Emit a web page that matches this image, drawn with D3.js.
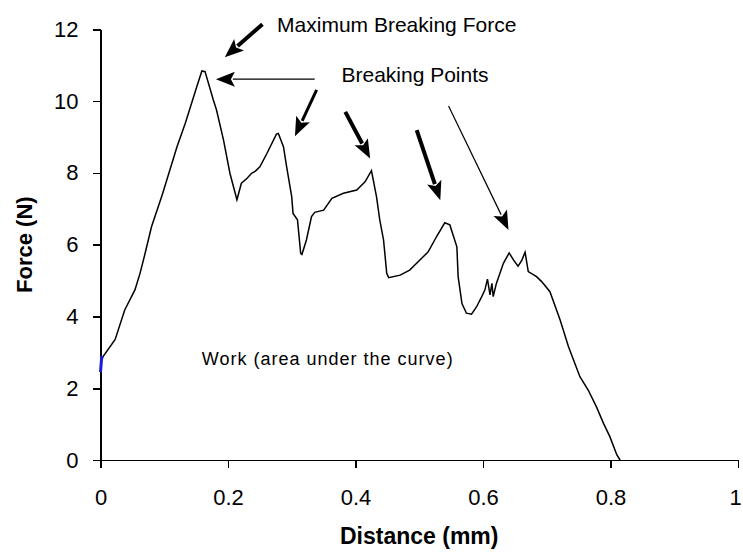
<!DOCTYPE html>
<html>
<head>
<meta charset="utf-8">
<script src="https://cdn.jsdelivr.net/npm/d3@7"></script>
<style>
  html, body { margin: 0; padding: 0; background: #fff; }
  svg { display: block; font-family: "Liberation Sans", Arial, sans-serif; }
  .axis path, .axis line { stroke: #000; stroke-width: 1.6; shape-rendering: crispEdges; }
  .axis text { fill: #000; font-size: 22px; }
</style>
</head>
<body>
<div id="chart"></div>
<script>
/* traced force / distance curve */
const distance = [0, 0.004, 0.023, 0.038, 0.054, 0.062, 0.07, 0.08, 0.097,
  0.12, 0.133, 0.151, 0.159, 0.164, 0.177, 0.182, 0.193, 0.203, 0.214,
  0.221, 0.23, 0.237, 0.243, 0.25, 0.261, 0.276, 0.279, 0.287, 0.292, 0.300,
  0.302, 0.309, 0.314, 0.316, 0.323, 0.331, 0.336, 0.35, 0.363, 0.381,
  0.402, 0.415, 0.425, 0.433, 0.438, 0.444, 0.449, 0.452, 0.47, 0.485,
  0.501, 0.514, 0.527, 0.54, 0.548, 0.559, 0.561, 0.567, 0.574, 0.582,
  0.59, 0.598, 0.603, 0.607, 0.611, 0.614, 0.616, 0.621, 0.632, 0.641,
  0.648, 0.655, 0.661, 0.666, 0.671, 0.684, 0.692, 0.705, 0.721, 0.734,
  0.752, 0.765, 0.778, 0.789, 0.799, 0.81, 0.815];
const force = [2.7, 2.88, 3.36, 4.18, 4.74, 5.2, 5.76, 6.5, 7.4,
  8.73, 9.38, 10.4, 10.84, 10.82, 10.03, 9.75, 8.91, 7.99, 7.25,
  7.71, 7.85, 7.99, 8.05, 8.17, 8.54, 9.08, 9.1, 8.73, 8.17, 7.33,
  6.87, 6.69, 5.76, 5.73, 6.13, 6.78, 6.9, 6.96, 7.29, 7.43,
  7.52, 7.75, 8.06, 7.33, 6.7, 6.13, 5.2, 5.08, 5.15, 5.29,
  5.57, 5.8, 6.22, 6.61, 6.55, 5.94, 5.11, 4.36, 4.09, 4.06,
  4.27, 4.55, 4.74, 5.04, 4.6, 4.92, 4.55, 4.92, 5.48, 5.77,
  5.57, 5.4, 5.57, 5.79, 5.25, 5.11, 4.97, 4.69, 3.9, 3.16,
  2.32, 1.95, 1.48, 1.02, 0.65, 0.14, 0];

/* small blue start segment on the axis */
const startDistance = [0, 0.002];
const startForce = [2.45, 2.9];

const xTicks = [0, 0.2, 0.4, 0.6, 0.8, 1];
const yTicks = [0, 2, 4, 6, 8, 10, 12];

/* annotations, in data units */
const arrowFrom = [[0.254, 12.14], [0.336, 10.61], [0.339, 10.31], [0.384, 9.70], [0.496, 9.19], [0.546, 9.86]];
const arrowTo   = [[0.195, 11.22], [0.181, 10.61], [0.305, 9.02], [0.423, 8.40], [0.533, 7.24], [0.640, 6.41]];
const arrowWeight = [4, 1.2, 3, 4, 4, 1.2];
const labelText = ['Maximum Breaking Force', 'Breaking Points', 'Work (area under the curve)'];
const labelAt   = [[0.277, 11.93], [0.378, 10.54], [0.159, 2.65]];

const W = 743, H = 555;
const x = d3.scaleLinear().domain([0, 1]).range([100.5, 738]);
const y = d3.scaleLinear().domain([0, 12]).range([460, 29.3]);

const svg = d3.select('#chart').append('svg')
  .attr('width', W).attr('height', H);

/* axes */
const xAxis = svg.append('g').attr('class', 'axis')
  .attr('transform', `translate(0,${y(0)})`)
  .call(d3.axisBottom(x).tickValues(xTicks).tickSize(8).tickSizeOuter(0).tickPadding(21)
    .tickFormat(d => d));
/* last label sits at the window edge: pull it in a touch */
xAxis.selectAll('.tick text').filter(d => d === 1).attr('dx', -3);

svg.append('g').attr('class', 'axis')
  .attr('transform', `translate(${x(0)},0)`)
  .call(d3.axisLeft(y).tickValues(yTicks).tickSize(8).tickSizeOuter(0).tickPadding(14)
    .tickFormat(d => d));

svg.selectAll('.axis .domain').attr('fill', 'none');

/* axis titles */
svg.append('text')
  .attr('x', (x(0) + x(1)) / 2).attr('y', 544)
  .attr('text-anchor', 'middle')
  .style('font-size', '23px').style('font-weight', 'bold')
  .text('Distance (mm)');

svg.append('text')
  .attr('transform', `translate(32,${(y(0) + y(12)) / 2}) rotate(-90)`)
  .attr('text-anchor', 'middle')
  .style('font-size', '22px').style('font-weight', 'bold')
  .text('Force (N)');

/* curve */
const pts = distance.map((d, i) => [d, force[i]]);
const line = d3.line().x(d => x(d[0])).y(d => y(d[1]));

svg.append('path').datum(pts)
  .attr('d', line)
  .attr('fill', 'none').attr('stroke', '#000')
  .attr('stroke-width', 1.5).attr('stroke-linejoin', 'miter');

svg.append('path').datum(startDistance.map((d, i) => [d, startForce[i]]))
  .attr('d', line)
  .attr('fill', 'none').attr('stroke', '#1a1adc').attr('stroke-width', 3);

/* arrows */
const HEAD_L = 19, HEAD_W = 15;
const arrows = svg.append('g');
arrowFrom.forEach((f, i) => {
  const x1 = x(f[0]), y1 = y(f[1]);
  const x2 = x(arrowTo[i][0]), y2 = y(arrowTo[i][1]);
  const len = Math.hypot(x2 - x1, y2 - y1);
  const ux = (x2 - x1) / len, uy = (y2 - y1) / len;
  const bx = x2 - ux * HEAD_L, by = y2 - uy * HEAD_L;
  arrows.append('line')
    .attr('x1', x1).attr('y1', y1)
    .attr('x2', bx + ux * 2).attr('y2', by + uy * 2)
    .attr('stroke', '#000').attr('stroke-width', arrowWeight[i]);
  arrows.append('polygon')
    .attr('points', [
      [x2, y2],
      [bx - uy * HEAD_W / 2, by + ux * HEAD_W / 2],
      [bx + ux * 4, by + uy * 4],
      [bx + uy * HEAD_W / 2, by - ux * HEAD_W / 2]
    ].map(p => p.join(',')).join(' '))
    .attr('fill', '#000');
});

/* labels */
const labelSize = [21, 21, 18];
const labelSpacing = [0, 0, 1];
labelText.forEach((t, i) => {
  svg.append('text')
    .attr('x', x(labelAt[i][0])).attr('y', y(labelAt[i][1]))
    .style('font-size', labelSize[i] + 'px')
    .style('letter-spacing', labelSpacing[i] + 'px')
    .attr('fill', '#000')
    .text(t);
});
</script>
</body>
</html>
